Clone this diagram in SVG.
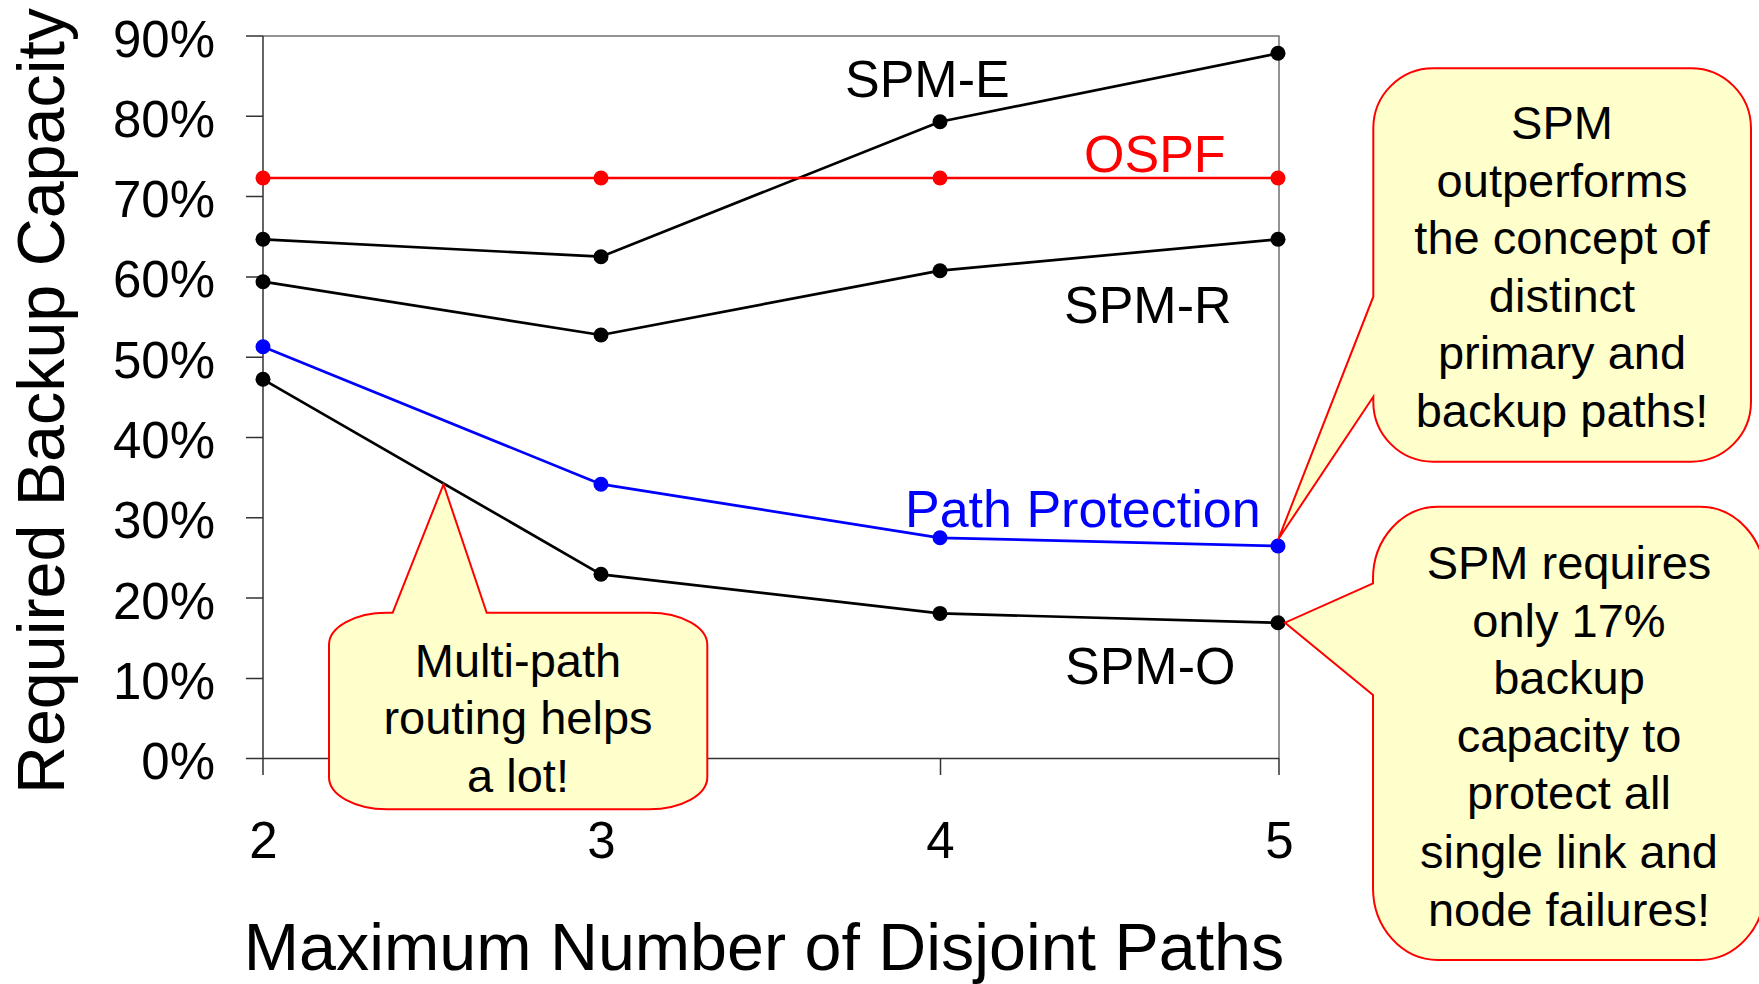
<svg xmlns="http://www.w3.org/2000/svg" width="1759" height="984" viewBox="0 0 1759 984">
  <style>
    text { font-family: "Liberation Sans", Arial, sans-serif; fill: #000; }
    .tick { font-size: 51px; }
    .ylab { text-anchor: end; }
    .xlab { text-anchor: middle; }
    .title { font-size: 66.4px; text-anchor: middle; }
    .series-label { font-size: 52px; }
    .axis { stroke: #333; stroke-width: 1.5; fill: none; }
    .frame { stroke: #707070; stroke-width: 1.5; fill: none; }
    .line { fill: none; stroke-width: 2.7; stroke-linejoin: round; }
    .callout { fill: #FFFFCC; stroke: #FF0000; stroke-width: 2; stroke-linejoin: miter; }
    .callout-text { font-size: 47px; text-anchor: middle; }
  </style>

  <rect width="1759" height="984" fill="#FFFFFF"/>

  <!-- plot frame and axes -->
  <g id="axes">
    <path class="frame" d="M263 36 H1279 V759"/>
    <path class="axis" d="M263 36 V775 M263 758.5 H1279"/>
    <path class="axis" d="M246 36 H263 M246 116.3 H263 M246 196.6 H263 M246 276.9 H263 M246 357.2 H263 M246 437.5 H263 M246 517.8 H263 M246 598.1 H263 M246 678.4 H263 M246 758.5 H263"/>
    <path class="axis" d="M601.5 758.5 V775 M940.5 758.5 V775 M1279 758.5 V775"/>
  </g>

  <!-- axis tick labels -->
  <g id="y-ticks" class="tick ylab">
    <text class="tick ylab" x="215" y="56.5">90%</text>
    <text class="tick ylab" x="215" y="136.8">80%</text>
    <text class="tick ylab" x="215" y="217.1">70%</text>
    <text class="tick ylab" x="215" y="297.4">60%</text>
    <text class="tick ylab" x="215" y="377.7">50%</text>
    <text class="tick ylab" x="215" y="458">40%</text>
    <text class="tick ylab" x="215" y="538.3">30%</text>
    <text class="tick ylab" x="215" y="618.6">20%</text>
    <text class="tick ylab" x="215" y="698.9">10%</text>
    <text class="tick ylab" x="215" y="779">0%</text>
  </g>
  <g id="x-ticks">
    <text class="tick xlab" x="263.5" y="857.5">2</text>
    <text class="tick xlab" x="601.5" y="857.5">3</text>
    <text class="tick xlab" x="940.5" y="857.5">4</text>
    <text class="tick xlab" x="1279.5" y="857.5">5</text>
  </g>

  <!-- axis titles -->
  <g id="axis-titles">
    <text class="title" x="764" y="969.5">Maximum Number of Disjoint Paths</text>
    <text class="title" transform="translate(64 401) rotate(-90)">Required Backup Capacity</text>
  </g>

  <!-- data series -->
  <g id="connectors">
    <polyline id="spm-e-line" class="line" stroke="#000" points="263,239.3 601,256.7 940,121.7 1278,53.3"/>
    <polyline id="ospf-line" class="line" stroke="#FF0000" points="263,178 601,178 940,178 1278,178"/>
    <polyline id="spm-r-line" class="line" stroke="#000" points="263,281.7 601,335 940,270.7 1278,239.3"/>
    <polyline id="pp-line" class="line" stroke="#0000FF" points="263,346.7 601,484.2 940,537.8 1278,546"/>
    <polyline id="spm-o-line" class="line" stroke="#000" points="263,379.3 601,574.3 940,613.4 1278,622.7"/>
  </g>

  <g id="markers">
    <g id="spm-e" fill="#000">
      <circle cx="263" cy="239.3" r="7.5"/><circle cx="601" cy="256.7" r="7.5"/><circle cx="940" cy="121.7" r="7.5"/><circle cx="1278" cy="53.3" r="7.5"/>
    </g>
    <g id="ospf" fill="#FF0000">
      <circle cx="263" cy="178" r="7.5"/><circle cx="601" cy="178" r="7.5"/><circle cx="940" cy="178" r="7.5"/><circle cx="1278" cy="178" r="7.5"/>
    </g>
    <g id="spm-r" fill="#000">
      <circle cx="263" cy="281.7" r="7.5"/><circle cx="601" cy="335" r="7.5"/><circle cx="940" cy="270.7" r="7.5"/><circle cx="1278" cy="239.3" r="7.5"/>
    </g>
    <g id="path-protection" fill="#0000FF">
      <circle cx="263" cy="346.7" r="7.5"/><circle cx="601" cy="484.2" r="7.5"/><circle cx="940" cy="537.8" r="7.5"/><circle cx="1278" cy="546" r="7.5"/>
    </g>
    <g id="spm-o" fill="#000">
      <circle cx="263" cy="379.3" r="7.5"/><circle cx="601" cy="574.3" r="7.5"/><circle cx="940" cy="613.4" r="7.5"/><circle cx="1278" cy="622.7" r="7.5"/>
    </g>
  </g>

  <!-- series names -->
  <g id="series-labels">
    <text class="series-label" x="845" y="96.7">SPM-E</text>
    <text class="series-label" x="1084" y="171.7" style="fill:#FF0000">OSPF</text>
    <text class="series-label" x="1064" y="323.3">SPM-R</text>
    <text class="series-label" x="905" y="526.6" style="fill:#0000FF">Path Protection</text>
    <text class="series-label" x="1065" y="683.8">SPM-O</text>
  </g>

  <!-- callouts -->
  <g id="callout-multipath">
    <path class="callout" d="M392.7 612.7 L443.5 484.3 L486.7 612.7 L649.3 612.7 A58 32 0 0 1 707.3 644.7 L707.3 777.3 A58 32 0 0 1 649.3 809.3 L387 809.3 A58 32 0 0 1 329 777.3 L329 644.7 A58 32 0 0 1 387 612.7 Z"/>
    <text class="callout-text" x="518" y="676.5">Multi-path</text>
    <text class="callout-text" x="518" y="734">routing helps</text>
    <text class="callout-text" x="518" y="791.5">a lot!</text>
  </g>

  <g id="callout-outperforms">
    <path class="callout" d="M1433.3 68.3 L1691 68.3 A60 60 0 0 1 1751 128.3 L1751 401.7 A60 60 0 0 1 1691 461.7 L1433.3 461.7 A60 60 0 0 1 1373.3 401.7 L1373.3 396.7 L1278.3 539.3 L1373.3 296.7 L1373.3 128.3 A60 60 0 0 1 1433.3 68.3 Z"/>
    <text class="callout-text" x="1562" y="139.3">SPM</text>
    <text class="callout-text" x="1562" y="196.7">outperforms</text>
    <text class="callout-text" x="1562" y="254">the concept of</text>
    <text class="callout-text" x="1562" y="311.7">distinct</text>
    <text class="callout-text" x="1562" y="369.3">primary and</text>
    <text class="callout-text" x="1562" y="426.7">backup paths!</text>
  </g>

  <g id="callout-requires">
    <path class="callout" d="M1438 506.7 L1700 506.7 A65 72 0 0 1 1765 578.7 L1765 888 A65 72 0 0 1 1700 960 L1438 960 A65 72 0 0 1 1373 888 L1373 695 L1285 622.7 L1373 583.3 L1373 578.7 A65 72 0 0 1 1438 506.7 Z"/>
    <text class="callout-text" x="1569" y="579.3">SPM requires</text>
    <text class="callout-text" x="1569" y="636.7">only 17%</text>
    <text class="callout-text" x="1569" y="694.3">backup</text>
    <text class="callout-text" x="1569" y="751.7">capacity to</text>
    <text class="callout-text" x="1569" y="809.3">protect all</text>
    <text class="callout-text" x="1569" y="868">single link and</text>
    <text class="callout-text" x="1569" y="925.5">node failures!</text>
  </g>
</svg>
